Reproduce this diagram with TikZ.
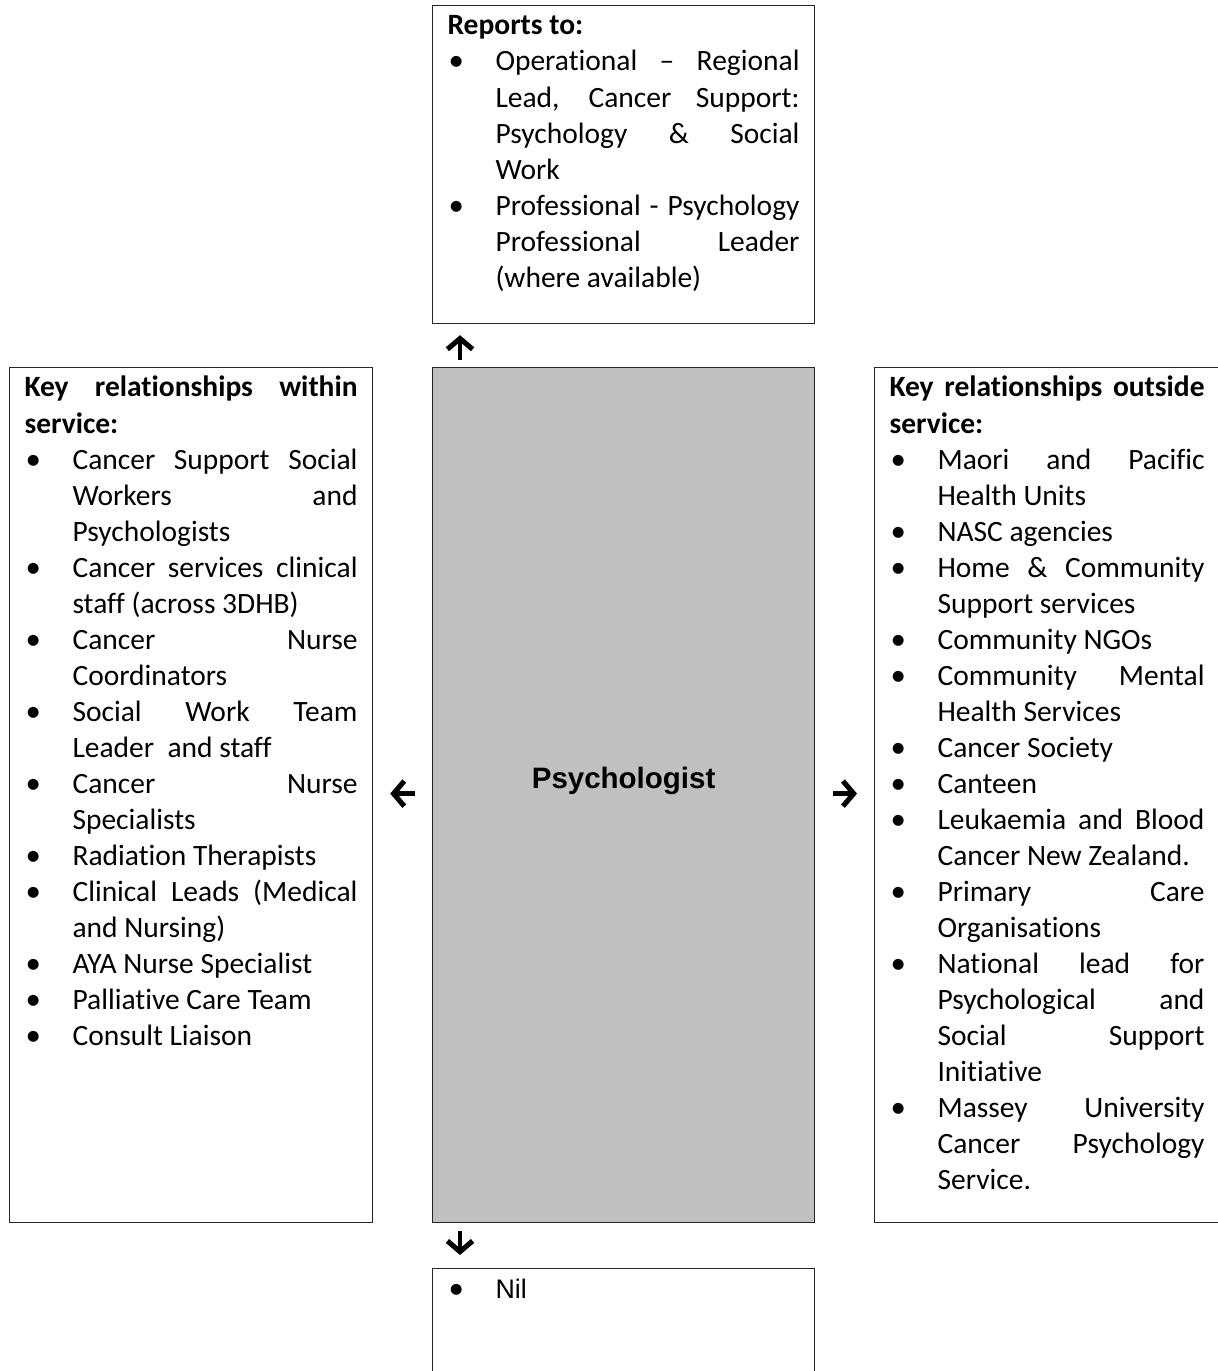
\documentclass[tikz,border=0pt]{standalone}
\usepackage{fontspec}
\setmainfont{Carlito}[Ligatures=NoCommon]
\newfontfamily\arialfont{Liberation Sans}
\usetikzlibrary{arrows.meta,calc}
\newlength{\pxu}\setlength{\pxu}{0.373pt}
\hyphenpenalty=10000
\exhyphenpenalty=10000
\newcommand{\bmark}{\makebox[48\pxu][l]{\hspace{1\pxu}{\rmfamily\fontsize{11.5pt}{13.43pt}\selectfont\textbullet}}}
\newcommand{\bitem}{\par\noindent\hangindent=48\pxu\hangafter=1\bmark}
\tikzset{
  cellbox/.style={draw=black!85, line width=0.45pt, anchor=north west, inner sep=0pt},
  celltext/.style={anchor=base west, inner sep=0pt, align=justify, font=\fontsize{11pt}{13.43pt}\selectfont},
  glypharrow/.style={line width=1.6pt, -{Straight Barb[length=4pt,width=9.4pt,line width=1.9pt]}}
}
\begin{document}
\begin{tikzpicture}[x=0.373pt,y=-0.373pt]
\useasboundingbox (0,0) rectangle (1217,1371);
% cells
\node[cellbox, minimum width=382\pxu, minimum height=318\pxu] (reports) at (432,5) {};
\node[cellbox, minimum width=363\pxu, minimum height=855\pxu] (within) at (9,367) {};
\node[cellbox, fill={rgb,255:red,192;green,192;blue,192}, minimum width=382\pxu, minimum height=855\pxu] (psych) at (432,367) {};
\node[cellbox, minimum width=345\pxu, minimum height=855\pxu] (outside) at (874,367) {};
\node[cellbox, minimum width=382\pxu, minimum height=130\pxu] (nilbox) at (432,1268) {};
% cell texts
\node[celltext, text width=352\pxu] (reportstext) at ($(reports.north west)+(15,30)$) {%
\textbf{Reports to:}
\bitem Operational – Regional\linebreak Lead, Cancer Support:\linebreak Psychology \& Social\linebreak Work
\bitem Professional - Psychology\linebreak Professional Leader\linebreak (where available)\par};
\node[celltext, text width=333\pxu] (withintext) at ($(within.north west)+(15,30)$) {%
\textbf{Key relationships within\linebreak service:}
\bitem Cancer Support Social\linebreak Workers and\linebreak Psychologists
\bitem Cancer services clinical\linebreak staff (across 3DHB)
\bitem Cancer Nurse\linebreak Coordinators
\bitem Social Work Team\linebreak Leader\ \ and staff
\bitem Cancer Nurse\linebreak Specialists
\bitem Radiation Therapists
\bitem Clinical Leads (Medical\linebreak and Nursing)
\bitem AYA Nurse Specialist
\bitem Palliative Care Team
\bitem Consult Liaison\par};
\node[celltext, text width=315\pxu] (outsidetext) at ($(outside.north west)+(15,30)$) {%
\textbf{Key relationships outside\linebreak service:}
\bitem Maori and Pacific\linebreak Health Units
\bitem NASC agencies
\bitem Home \& Community\linebreak Support services
\bitem Community NGOs
\bitem Community Mental\linebreak Health Services
\bitem Cancer Society
\bitem Canteen
\bitem Leukaemia and Blood\linebreak Cancer New Zealand.
\bitem Primary Care\linebreak Organisations
\bitem National lead for\linebreak Psychological and\linebreak Social Support\linebreak Initiative
\bitem Massey University\linebreak Cancer Psychology\linebreak Service.\par};
\node[anchor=base, inner sep=0pt, font=\arialfont\bfseries\fontsize{11pt}{13pt}\selectfont] (psychlabel) at ($(psych.north)+(0,421)$) {Psychologist};
\node[celltext, text width=352\pxu, font=\arialfont\fontsize{10pt}{13pt}\selectfont] (niltext) at ($(nilbox.north west)+(15,30)$) {%
\bmark Nil};
% arrows
\draw[glypharrow] ($(psych.north west)+(28,-7)$) -- ($(reports.south west)+(28,11)$);
\draw[glypharrow] ($(psych.west)+(-17,-1.5)$) -- ($(within.east)+(17,-1.5)$);
\draw[glypharrow] ($(psych.east)+(18,-1.5)$) -- ($(outside.west)+(-17,-1.5)$);
\draw[glypharrow] ($(psych.south west)+(28,8)$) -- ($(nilbox.north west)+(28,-13)$);
\end{tikzpicture}
\end{document}
